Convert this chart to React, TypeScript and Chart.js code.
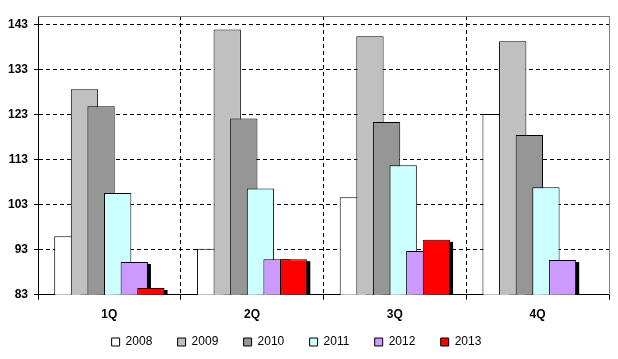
import React, { useEffect, useRef } from "react";
import { Chart, registerables } from "chart.js";

Chart.register(...registerables);

const categories = ["1Q", "2Q", "3Q", "4Q"];
const seriesNames = ["2008", "2009", "2010", "2011", "2012", "2013"];
const v2008 = [96.0, 93.2, 104.7, 123.2];
const v2009 = [128.7, 142.0, 140.5, 139.4];
const v2010 = [124.9, 122.2, 121.4, 118.5];
const v2011 = [105.6, 106.6, 111.8, 106.9];
const v2012 = [90.3, 90.9, 92.7, 90.7];
const v2013 = [84.5, 90.9, 95.2, null];
const yTicks = [83, 93, 103, 113, 123, 133, 143];
const yMin = 83;
const yMax = 145;

const seriesValues = [v2008, v2009, v2010, v2011, v2012, v2013];
const colors = ["#FFFFFF", "#C0C0C0", "#969696", "#CCFFFF", "#CC99FF", "#FF0000"];
const shadowed = [false, false, false, false, true, true];

const FONT = "Arial, 'Liberation Sans', sans-serif";

const excelPlugin = {
  id: "excelLook",
  afterLayout(chart: any) {
    if (chart.legend) {
      chart.legend.left -= 8;
      chart.legend.right -= 8;
    }
    const xs = chart.scales.x;
    if (xs) {
      // let the category labels overflow the (short) axis box without clipping
      xs.bottom = xs.top + 34;
    }
  },
  beforeDatasetsDraw(chart: any) {
    const ctx = chart.ctx;
    const area = chart.chartArea;
    const metas = chart.getSortedVisibleDatasetMetas();
    for (const meta of metas) {
      if (shadowed[meta.index]) {
        ctx.save();
        ctx.beginPath();
        ctx.rect(area.left, area.top, area.right - area.left, area.bottom - area.top);
        ctx.clip();
        ctx.fillStyle = "#000";
        for (const el of meta.data) {
          const p = el.getProps(["x", "y", "base", "width"], true);
          if (!isFinite(p.y) || !isFinite(p.base)) continue;
          ctx.fillRect(p.x - p.width / 2 + 3, p.y + 2, p.width, p.base - p.y);
        }
        ctx.restore();
      }
      chart._drawDataset(meta);
    }
    return false;
  },
  afterDraw(chart: any) {
    const ctx = chart.ctx;
    const a = chart.chartArea;
    ctx.save();
    ctx.strokeStyle = "#808080";
    ctx.lineWidth = 1;
    ctx.beginPath();
    ctx.moveTo(a.left, Math.round(a.top) + 0.5);
    ctx.lineTo(Math.round(a.right) + 1, Math.round(a.top) + 0.5);
    ctx.moveTo(Math.round(a.right) + 0.5, Math.round(a.top));
    ctx.lineTo(Math.round(a.right) + 0.5, a.bottom);
    ctx.stroke();
    ctx.restore();
  },
};

export default function App() {
  const ref = useRef<HTMLCanvasElement | null>(null);

  useEffect(() => {
    if (!ref.current) return;
    const chart = new Chart(ref.current, {
      type: "bar",
      data: {
        labels: categories,
        datasets: seriesNames.map((name, i) => ({
          label: name,
          data: seriesValues[i],
          backgroundColor: colors[i],
          borderColor: "#000",
          borderWidth: 1,
          barPercentage: 1.645,
          categoryPercentage: 0.698,
        })),
      },
      options: {
        responsive: false,
        animation: false,
        layout: { padding: { left: 0, right: 9, top: 16, bottom: 1 } },
        plugins: {
          tooltip: { enabled: false },
          legend: {
            position: "bottom",
            labels: {
              boxWidth: 8,
              boxHeight: 8,
              padding: 25.3,
              color: "#000",
              font: { family: FONT, size: 12 },
            },
          },
        },
        scales: {
          x: {
            offset: true,
            grid: {
              offset: true,
              color: (c: any) => (c.type !== "tick" || c.index === 0 ? "rgba(0,0,0,0)" : "#000"),
              tickColor: "#000",
              tickLength: 5,
              lineWidth: 1,
            },
            border: { color: "#000", width: 1, dash: [4, 3] },
            ticks: {
              color: "#000",
              padding: 8,
              font: { family: FONT, size: 12, weight: "bold" },
            },
            afterFit: (s: any) => {
              s.height = 16;
            },
          },
          y: {
            min: yMin,
            max: yMax,
            afterBuildTicks: (s: any) => {
              s.ticks = yTicks.map((v) => ({ value: v }));
            },
            grid: {
              color: (c: any) => (c.index === 0 ? "rgba(0,0,0,0)" : "#000"),
              tickColor: "#000",
              tickLength: 4,
              lineWidth: 1,
            },
            border: { color: "#000", width: 1, dash: [4, 3] },
            ticks: {
              color: "#000",
              padding: 6,
              font: { family: FONT, size: 12, weight: "bold" },
            },
            afterFit: (s: any) => {
              s.width = 38;
            },
          },
        },
      },
      plugins: [excelPlugin],
    });
    return () => chart.destroy();
  }, []);

  return (
    <div style={{ position: "absolute", left: 0, top: 0, width: 618, height: 359, background: "#fff" }}>
      <canvas ref={ref} width={618} height={359} style={{ display: "block" }} />
    </div>
  );
}
